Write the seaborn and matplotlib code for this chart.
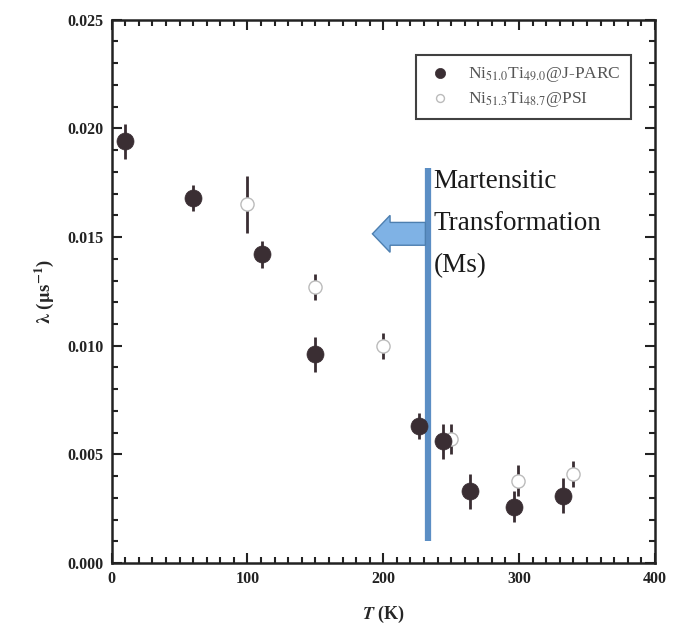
import matplotlib
matplotlib.use("Agg")
import matplotlib.pyplot as plt
from matplotlib.ticker import MultipleLocator
from matplotlib.patches import FancyArrow
import numpy as np
import pandas as pd
import seaborn as sns

# J-PARC (filled)
jparc_T = [10, 60, 111, 150, 226, 244, 264, 296, 332]
jparc_lam = [0.0194, 0.0168, 0.0142, 0.0096, 0.0063, 0.0056, 0.0033, 0.0026, 0.0031]
jparc_err = [0.0008, 0.0006, 0.0006, 0.0008, 0.0006, 0.0008, 0.0008, 0.0007, 0.0008]

# PSI (open)
psi_T = [100, 150, 200, 250, 299, 340]
psi_lam = [0.0165, 0.0127, 0.0100, 0.0057, 0.0038, 0.0041]
psi_err = [0.0013, 0.0006, 0.0006, 0.0007, 0.0007, 0.0006]

jparc_label = r"Ni$_{51.0}$Ti$_{49.0}$@J-PARC"
psi_label = r"Ni$_{51.3}$Ti$_{48.7}$@PSI"

sns.set_style("ticks")
plt.rcParams['font.family'] = ['Liberation Serif', 'DejaVu Serif']
plt.rcParams['mathtext.fontset'] = 'stix'

df_j = pd.DataFrame({"T": jparc_T, "lam": jparc_lam})
df_p = pd.DataFrame({"T": psi_T, "lam": psi_lam})

dark = '#3a2e33'

fig = plt.figure(figsize=(6.73, 6.37), dpi=100)
ax = fig.add_axes([0.166, 0.116, 0.807, 0.853])

ax.errorbar(psi_T, psi_lam, yerr=psi_err, fmt='none', ecolor=dark, elinewidth=2, capsize=0, zorder=2)
sns.scatterplot(data=df_p, x="T", y="lam", ax=ax, s=90, facecolor='white', edgecolor='#bbbbbb',
                linewidth=1, label=psi_label, zorder=3)
ax.errorbar(jparc_T, jparc_lam, yerr=jparc_err, fmt='none', ecolor=dark, elinewidth=2, capsize=0, zorder=4)
sns.scatterplot(data=df_j, x="T", y="lam", ax=ax, s=150, color=dark, edgecolor=dark,
                linewidth=0.5, label=jparc_label, zorder=5)

# Martensitic transformation marker
ax.plot([233, 233], [0.0010, 0.0182], color='#5b8ec4', lw=4.5, zorder=1, solid_capstyle='butt')
ax.add_patch(FancyArrow(231, 0.01515, -39, 0, width=0.00105, head_width=0.0017, head_length=13,
                        length_includes_head=True, facecolor='#7fb2e5', edgecolor='#4d7fb0', lw=1, zorder=1))
ax.text(237, 0.01815, "Martensitic\nTransformation\n(Ms)", fontsize=19.5, color='#1a1a1a',
        va='top', ha='left', linespacing=1.9, zorder=6)

ax.set_xlim(0, 400)
ax.set_ylim(0, 0.025)
ax.xaxis.set_major_locator(MultipleLocator(100))
ax.xaxis.set_minor_locator(MultipleLocator(10))
ax.yaxis.set_major_locator(MultipleLocator(0.005))
ax.yaxis.set_minor_locator(MultipleLocator(0.001))
ax.yaxis.set_major_formatter(matplotlib.ticker.FormatStrFormatter('%.3f'))
ax.tick_params(which='both', direction='in', top=True, right=True, width=1.5, colors='#222222')
ax.tick_params(which='major', length=7, labelsize=11.5, pad=6)
ax.tick_params(which='minor', length=4)
for lbl in ax.get_xticklabels() + ax.get_yticklabels():
    lbl.set_fontweight('bold')
for sp in ax.spines.values():
    sp.set_linewidth(1.8)
    sp.set_color('#222222')

ax.set_xlabel(r"$\boldsymbol{T}$ (K)", fontsize=13, fontweight='bold', labelpad=12)
ax.set_ylabel(r"$\boldsymbol{\lambda}$ ($\mathbf{\mu}$s$^{\mathbf{-1}}$)", fontsize=13.5, fontweight='bold', labelpad=8)

handles, labels = ax.get_legend_handles_labels()
leg = ax.legend(handles[::-1], labels[::-1], loc='upper right', bbox_to_anchor=(0.972, 0.952),
                fontsize=12.5, frameon=True, fancybox=False, edgecolor='#111111',
                handletextpad=0.8, borderpad=0.6, labelspacing=0.35, markerscale=0.6,
                handlelength=1.6)
leg.get_frame().set_linewidth(1.5)
for t in leg.get_texts():
    t.set_color('#555555')

fig.savefig("out.png", dpi=100)
